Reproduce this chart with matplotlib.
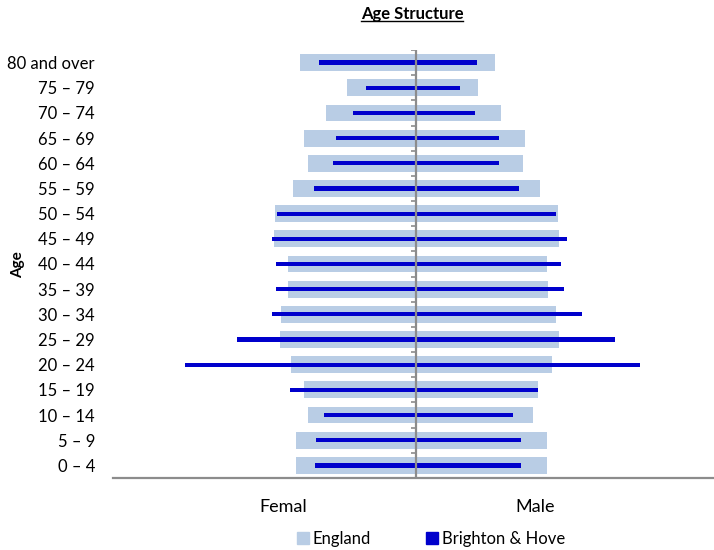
import numpy as np
import matplotlib
matplotlib.use("Agg")
import matplotlib.pyplot as plt
from matplotlib.lines import Line2D
from matplotlib.patches import Patch

plt.rcParams['font.family'] = ['Lato', 'DejaVu Sans']

ages = ["0 – 4", "5 – 9", "10 – 14", "15 – 19", "20 – 24", "25 – 29", "30 – 34",
        "35 – 39", "40 – 44", "45 – 49", "50 – 54", "55 – 59", "60 – 64",
        "65 – 69", "70 – 74", "75 – 79", "80 and over"]

# percent of population, bottom (0-4) to top (80 and over)
eng_female = [3.10, 3.10, 2.78, 2.87, 3.22, 3.50, 3.47, 3.30, 3.29, 3.65, 3.63,
              3.16, 2.77, 2.89, 2.31, 1.79, 2.99]
eng_male = [3.35, 3.35, 2.99, 3.11, 3.47, 3.66, 3.57, 3.38, 3.35, 3.65, 3.63,
            3.18, 2.73, 2.79, 2.17, 1.58, 2.01]
bh_female = [2.61, 2.57, 2.38, 3.25, 5.93, 4.60, 3.71, 3.60, 3.60, 3.71, 3.58,
             2.63, 2.13, 2.05, 1.62, 1.29, 2.51]
bh_male = [2.69, 2.67, 2.47, 3.11, 5.74, 5.08, 4.24, 3.79, 3.71, 3.85, 3.57,
           2.63, 2.11, 2.13, 1.51, 1.11, 1.56]

eng_col = '#b9cde5'
bh_col = '#0000cc'
axis_col = '#8c8c8c'

fig = plt.figure(figsize=(7.14, 5.5), dpi=100)
ax = fig.add_axes([113/714, 72/550, 601/714, 428/550])

y = np.arange(len(ages))
ax.barh(y, -np.array(eng_female), height=0.67, color=eng_col, zorder=1)
ax.barh(y, eng_male, height=0.67, color=eng_col, zorder=1)
ax.barh(y, -np.array(bh_female), height=0.17, color=bh_col, zorder=2)
ax.barh(y, bh_male, height=0.17, color=bh_col, zorder=2)

ax.set_xlim(-7.78, 7.63)
ax.set_ylim(-0.5, len(ages) - 0.5)

# centre axis with small ticks between categories
ax.axvline(0, color=axis_col, lw=1.6, zorder=3)
ax.hlines(np.arange(len(ages)) + 0.5, -0.13, 0, color=axis_col, lw=1.2, zorder=3)

for s in ['left', 'right', 'top']:
    ax.spines[s].set_visible(False)
ax.spines['bottom'].set_color(axis_col)
ax.spines['bottom'].set_linewidth(1.6)
ax.set_xticks([])
ax.set_yticks(y)
ax.set_yticklabels(ages, fontsize=12)
ax.tick_params(axis='y', length=0, pad=13)

fig.text(283/714, 1 - 512/550, "Femal", ha='center', va='baseline', fontsize=13)
fig.text(535/714, 1 - 512/550, "Male", ha='center', va='baseline', fontsize=13)
fig.text(18/714, 1 - 265/550, "Age", rotation=90, ha='center', va='center',
         fontsize=11, fontweight='bold')

title = fig.text(412/714, 1 - 19/550, "Age Structure", ha='center', va='baseline',
                 fontsize=12, fontweight='bold')
fig.canvas.draw()
bb = title.get_window_extent(fig.canvas.get_renderer())
uy = bb.y0 + 1
fig.add_artist(Line2D([bb.x0 / 714, bb.x1 / 714], [uy / 550, uy / 550],
                      transform=fig.transFigure, color='black', lw=1))

handles = [Patch(color=eng_col, label='England'),
           Patch(color=bh_col, label='Brighton & Hove')]
fig.legend(handles=handles, loc='center', bbox_to_anchor=(431/714, 1 - 539/550),
           ncol=2, frameon=False, fontsize=12, handlelength=0.7,
           handleheight=0.7, handletextpad=0.25, columnspacing=3.3)

fig.savefig("out.png", dpi=100)
